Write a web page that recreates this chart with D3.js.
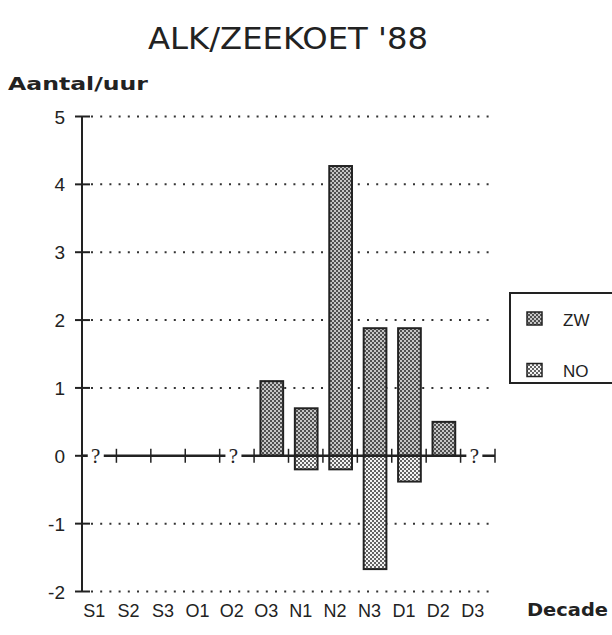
<!DOCTYPE html>
<html>
<head>
<meta charset="utf-8">
<script src="https://cdn.jsdelivr.net/npm/d3@7"></script>
<style>
  body { margin: 0; background: #fff; }
  svg { display: block; }
</style>
</head>
<body>
<svg id="chart"></svg>
<script>
// decades Sep..Dec 1988
const categories = ["S1", "S2", "S3", "O1", "O2", "O3", "N1", "N2", "N3", "D1", "D2", "D3"];
const zwValues = [0, 0, 0, 0, 0, 1.1, 0.7, 4.27, 1.88, 1.88, 0.5, 0];
const noValues = [0, 0, 0, 0, 0, 0, -0.2, -0.2, -1.67, -0.38, 0, 0];
const missing = ["S1", "O2", "D3"]; // shown as "?"
const yTicks = [-2, -1, 0, 1, 2, 3, 4, 5];
const seriesNames = ["ZW", "NO"];

const W = 612, H = 635;
const svg = d3.select("#chart").attr("width", W).attr("height", H);

const defs = svg.append("defs");
// dark dotted fill for ZW
const pz = defs.append("pattern").attr("id", "patZW")
  .attr("width", 4).attr("height", 4).attr("patternUnits", "userSpaceOnUse");
pz.append("rect").attr("width", 4).attr("height", 4).attr("fill", "#505050");
pz.append("circle").attr("cx", 1).attr("cy", 1).attr("r", 1).attr("fill", "#eee");
pz.append("circle").attr("cx", 3).attr("cy", 3).attr("r", 1).attr("fill", "#eee");
// light dotted fill for NO
const pn = defs.append("pattern").attr("id", "patNO")
  .attr("width", 4).attr("height", 4).attr("patternUnits", "userSpaceOnUse");
pn.append("rect").attr("width", 4).attr("height", 4).attr("fill", "#f4f4f4");
pn.append("circle").attr("cx", 1).attr("cy", 1).attr("r", 1).attr("fill", "#333");
pn.append("circle").attr("cx", 3).attr("cy", 3).attr("r", 1).attr("fill", "#333");

const x = d3.scaleBand().domain(categories).range([82, 495]);
const y = d3.scaleLinear().domain([-2, 5]).range([591.5, 116.5]);
const bw = x.bandwidth();
const barW = bw * 0.66;

const ink = "#222";

// title + axis titles
svg.append("text")
  .attr("x", 148).attr("y", 49)
  .attr("textLength", 280).attr("lengthAdjust", "spacingAndGlyphs")
  .style("font-family", "DejaVu Sans, sans-serif").style("font-size", "31px")
  .attr("fill", ink)
  .text("ALK/ZEEKOET '88");

svg.append("text")
  .attr("x", 8).attr("y", 90)
  .attr("textLength", 140).attr("lengthAdjust", "spacingAndGlyphs")
  .style("font-family", "DejaVu Sans, sans-serif").style("font-size", "17px").style("font-weight", "bold")
  .attr("fill", ink)
  .text("Aantal/uur");

svg.append("text")
  .attr("x", 527).attr("y", 616)
  .attr("textLength", 81).attr("lengthAdjust", "spacingAndGlyphs")
  .style("font-family", "DejaVu Sans, sans-serif").style("font-size", "17px").style("font-weight", "bold")
  .attr("fill", ink)
  .text("Decade");

// dotted gridlines
svg.append("g").selectAll("line")
  .data(yTicks.filter(d => d !== 0))
  .join("line")
  .attr("x1", 91).attr("x2", 492)
  .attr("y1", d => y(d)).attr("y2", d => y(d))
  .attr("stroke", "#333").attr("stroke-width", 2)
  .attr("stroke-dasharray", "2,7.2");

// y axis
svg.append("line")
  .attr("x1", x.range()[0]).attr("x2", x.range()[0])
  .attr("y1", y(5)).attr("y2", y(-2))
  .attr("stroke", ink).attr("stroke-width", 2);
svg.append("g").selectAll("line")
  .data(yTicks)
  .join("line")
  .attr("x1", 75).attr("x2", 90)
  .attr("y1", d => y(d)).attr("y2", d => y(d))
  .attr("stroke", ink).attr("stroke-width", 2);
svg.append("g").selectAll("text")
  .data(yTicks)
  .join("text")
  .attr("x", 65).attr("y", d => y(d) + 7)
  .attr("text-anchor", "end")
  .style("font-family", "Liberation Sans, sans-serif").style("font-size", "19px")
  .attr("fill", ink)
  .text(d => d);

// bars
const zwData = categories.map((c, i) => ({ c, v: zwValues[i] })).filter(d => d.v !== 0);
const noData = categories.map((c, i) => ({ c, v: noValues[i] })).filter(d => d.v !== 0);

svg.append("g").selectAll("rect")
  .data(zwData)
  .join("rect")
  .attr("x", d => x(d.c) + (bw - barW) / 2 + 0.5)
  .attr("width", barW)
  .attr("y", d => y(d.v))
  .attr("height", d => y(0) - y(d.v))
  .attr("fill", "url(#patZW)")
  .attr("stroke", ink).attr("stroke-width", 2);

svg.append("g").selectAll("rect")
  .data(noData)
  .join("rect")
  .attr("x", d => x(d.c) + (bw - barW) / 2 + 0.5)
  .attr("width", barW)
  .attr("y", y(0))
  .attr("height", d => y(d.v) - y(0))
  .attr("fill", "url(#patNO)")
  .attr("stroke", ink).attr("stroke-width", 2);

// zero line with decade ticks
svg.append("line")
  .attr("x1", x.range()[0]).attr("x2", x.range()[1])
  .attr("y1", y(0)).attr("y2", y(0))
  .attr("stroke", ink).attr("stroke-width", 2.5);
const bounds = categories.slice(1).map(c => x(c)).concat([x.range()[1]]);
svg.append("g").selectAll("line")
  .data(bounds)
  .join("line")
  .attr("x1", d => d).attr("x2", d => d)
  .attr("y1", y(0) - 7).attr("y2", y(0) + 7)
  .attr("stroke", ink).attr("stroke-width", 1.5);

// question marks for missing decades
const qx = c => x(c) + bw * 0.4;
svg.append("g").selectAll("rect")
  .data(missing)
  .join("rect")
  .attr("x", d => qx(d) - 8).attr("width", 16)
  .attr("y", y(0) - 3).attr("height", 6)
  .attr("fill", "#fff");
svg.append("g").selectAll("text")
  .data(missing)
  .join("text")
  .attr("x", d => qx(d)).attr("y", y(0) + 7)
  .attr("text-anchor", "middle")
  .style("font-family", "Liberation Serif, serif").style("font-size", "21px")
  .attr("fill", ink)
  .text("?");

// category labels
svg.append("g").selectAll("text")
  .data(categories)
  .join("text")
  .attr("x", d => x(d) + bw / 2 - 5).attr("y", 617)
  .attr("text-anchor", "middle")
  .style("font-family", "Liberation Sans, sans-serif").style("font-size", "18px")
  .attr("fill", ink)
  .text(d => d);

// legend
const lg = svg.append("g");
lg.append("rect")
  .attr("x", 510).attr("y", 293).attr("width", 120).attr("height", 90)
  .attr("fill", "#fff").attr("stroke", ink).attr("stroke-width", 2);
const lgY = d3.scalePoint().domain(seriesNames).range([318.5, 370]);
lg.selectAll("rect.sw")
  .data(seriesNames)
  .join("rect")
  .attr("class", "sw")
  .attr("x", 527).attr("y", d => lgY(d) - 6.5)
  .attr("width", 15).attr("height", 13)
  .attr("fill", d => d === "ZW" ? "url(#patZW)" : "url(#patNO)")
  .attr("stroke", ink).attr("stroke-width", 1.5);
lg.selectAll("text")
  .data(seriesNames)
  .join("text")
  .attr("x", 563).attr("y", d => lgY(d) + 7)
  .style("font-family", "Liberation Sans, sans-serif").style("font-size", "17px")
  .attr("fill", ink)
  .text(d => d);
</script>
</body>
</html>
